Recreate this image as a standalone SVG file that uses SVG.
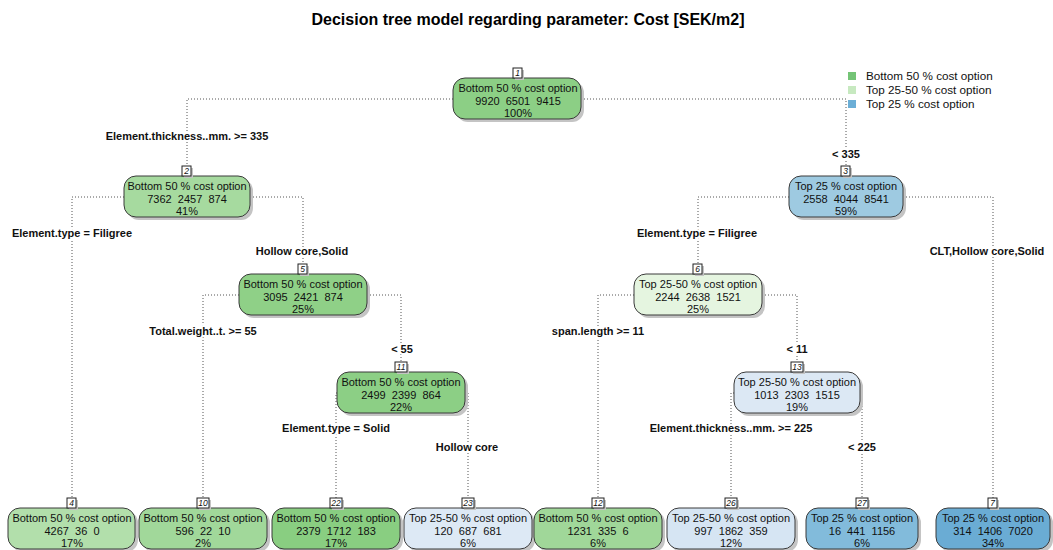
<svg xmlns="http://www.w3.org/2000/svg" width="1053" height="550" viewBox="0 0 1053 550">
  <style>
    text { white-space: pre; }
    .title { font: bold 16px "Liberation Sans", Arial, sans-serif; fill: #000; }
    .box { stroke: #3a3a3a; stroke-width: 1; }
    .shadow { fill: #c4c4c4; }
    .txt { font: 11px "Liberation Sans", Arial, sans-serif; fill: #111; text-anchor: middle; }
    .num { font: italic 8.5px "Liberation Sans", Arial, sans-serif; fill: #111; text-anchor: middle; }
    .numbox { fill: #fff; stroke: #222; stroke-width: 1; }
    .split { font: bold 11px "Liberation Sans", Arial, sans-serif; fill: #111; text-anchor: middle; paint-order: stroke; stroke: #fff; stroke-width: 4; stroke-linejoin: round; }
    .conn { fill: none; stroke: #555; stroke-width: 1; stroke-dasharray: 1 2; }
    .leg { font: 11.7px "Liberation Sans", Arial, sans-serif; fill: #111; }
  </style>

  <rect width="1053" height="550" fill="#fff"/>
  <text class="title" x="528" y="25" text-anchor="middle">Decision tree model regarding parameter: Cost [SEK/m2]</text>

  <!-- legend -->
  <g id="legend">
    <rect x="848" y="72" width="8" height="8" fill="#74c476"/>
    <rect x="848" y="86" width="8" height="8" fill="#c7e9c0"/>
    <rect x="848" y="100" width="8" height="8" fill="#6baed6"/>
    <text class="leg" x="866" y="80">Bottom 50 % cost option</text>
    <text class="leg" x="866" y="94">Top 25-50 % cost option</text>
    <text class="leg" x="866" y="108">Top 25 % cost option</text>
  </g>

  <!-- connectors: horizontal from box side, then down to child number tag -->
  <g id="connectors">
    <path class="conn" d="M453 99 H187 V166"/>
    <path class="conn" d="M581 99 H846 V166"/>
    <path class="conn" d="M124 197 H72 V498"/>
    <path class="conn" d="M250 197 H303 V264"/>
    <path class="conn" d="M789 197 H698 V264"/>
    <path class="conn" d="M903 197 H993 V498"/>
    <path class="conn" d="M239 295 H203 V498"/>
    <path class="conn" d="M367 295 H401 V362"/>
    <path class="conn" d="M634 295 H598 V498"/>
    <path class="conn" d="M762 295 H797 V362"/>
    <path class="conn" d="M337 393 H336 V498"/>
    <path class="conn" d="M465 393 H468 V498"/>
    <path class="conn" d="M734 393 H731 V498"/>
    <path class="conn" d="M860 393 H862 V498"/>
  </g>

  <!-- split labels -->
  <g id="split-labels">
    <text class="split" x="187" y="140">Element.thickness..mm. &gt;= 335</text>
    <text class="split" x="846" y="158">&lt; 335</text>
    <text class="split" x="72" y="237">Element.type = Filigree</text>
    <text class="split" x="302" y="255">Hollow core,Solid</text>
    <text class="split" x="697" y="237">Element.type = Filigree</text>
    <text class="split" x="987" y="255">CLT,Hollow core,Solid</text>
    <text class="split" x="203" y="335">Total.weight..t. &gt;= 55</text>
    <text class="split" x="402" y="353">&lt; 55</text>
    <text class="split" x="598" y="335">span.length &gt;= 11</text>
    <text class="split" x="797" y="353">&lt; 11</text>
    <text class="split" x="336" y="432">Element.type = Solid</text>
    <text class="split" x="467" y="451">Hollow core</text>
    <text class="split" x="731" y="432">Element.thickness..mm. &gt;= 225</text>
    <text class="split" x="862" y="451">&lt; 225</text>
  </g>

  <!-- node 1 -->
  <g id="node1">
    <rect class="shadow" x="456" y="81" width="128" height="41" rx="12"/>
    <rect class="box" x="453" y="78" width="128" height="41" rx="12" fill="#8ccf85"/>
    <rect class="shadow" x="515" y="70" width="9" height="10"/>
    <rect class="numbox" x="513" y="68" width="9" height="10"/>
    <text class="num" x="517.5" y="76">1</text>
    <text class="txt" x="518" y="92">Bottom 50 % cost option</text>
    <text class="txt" x="518" y="105">9920  6501  9415</text>
    <text class="txt" x="518" y="117">100%</text>
  </g>

  <!-- node 2 -->
  <g id="node2">
    <rect class="shadow" x="127" y="179" width="126" height="41" rx="12"/>
    <rect class="box" x="124" y="176" width="126" height="41" rx="12" fill="#a6da9f"/>
    <rect class="shadow" x="184" y="168" width="9" height="10"/>
    <rect class="numbox" x="182" y="166" width="9" height="10"/>
    <text class="num" x="186.5" y="174">2</text>
    <text class="txt" x="187" y="190">Bottom 50 % cost option</text>
    <text class="txt" x="187" y="202.5">7362  2457  874</text>
    <text class="txt" x="187" y="215">41%</text>
  </g>

  <!-- node 3 -->
  <g id="node3">
    <rect class="shadow" x="792" y="179" width="114" height="41" rx="12"/>
    <rect class="box" x="789" y="176" width="114" height="41" rx="12" fill="#9ecae1"/>
    <rect class="shadow" x="843" y="168" width="9" height="10"/>
    <rect class="numbox" x="841" y="166" width="9" height="10"/>
    <text class="num" x="845.5" y="174">3</text>
    <text class="txt" x="846" y="190">Top 25 % cost option</text>
    <text class="txt" x="846" y="202.5">2558  4044  8541</text>
    <text class="txt" x="846" y="215">59%</text>
  </g>

  <!-- node 5 -->
  <g id="node5">
    <rect class="shadow" x="242" y="277" width="128" height="41" rx="12"/>
    <rect class="box" x="239" y="274" width="128" height="41" rx="12" fill="#8fd087"/>
    <rect class="shadow" x="300" y="266" width="9" height="10"/>
    <rect class="numbox" x="298" y="264" width="9" height="10"/>
    <text class="num" x="302.5" y="272">5</text>
    <text class="txt" x="303" y="288">Bottom 50 % cost option</text>
    <text class="txt" x="303" y="300.5">3095  2421  874</text>
    <text class="txt" x="303" y="313">25%</text>
  </g>

  <!-- node 6 -->
  <g id="node6">
    <rect class="shadow" x="637" y="277" width="128" height="41" rx="12"/>
    <rect class="box" x="634" y="274" width="128" height="41" rx="12" fill="#e5f5e0"/>
    <rect class="shadow" x="695" y="266" width="9" height="10"/>
    <rect class="numbox" x="693" y="264" width="9" height="10"/>
    <text class="num" x="697.5" y="272">6</text>
    <text class="txt" x="698" y="288">Top 25-50 % cost option</text>
    <text class="txt" x="698" y="300.5">2244  2638  1521</text>
    <text class="txt" x="698" y="313">25%</text>
  </g>

  <!-- node 11 -->
  <g id="node11">
    <rect class="shadow" x="340" y="375" width="128" height="41" rx="12"/>
    <rect class="box" x="337" y="372" width="128" height="41" rx="12" fill="#8ccf85"/>
    <rect class="shadow" x="397" y="364" width="12" height="10"/>
    <rect class="numbox" x="395" y="362" width="12" height="10"/>
    <text class="num" x="401" y="370">11</text>
    <text class="txt" x="401" y="386">Bottom 50 % cost option</text>
    <text class="txt" x="401" y="398.5">2499  2399  864</text>
    <text class="txt" x="401" y="411">22%</text>
  </g>

  <!-- node 13 -->
  <g id="node13">
    <rect class="shadow" x="737" y="375" width="126" height="41" rx="12"/>
    <rect class="box" x="734" y="372" width="126" height="41" rx="12" fill="#dce8f4"/>
    <rect class="shadow" x="793" y="364" width="12" height="10"/>
    <rect class="numbox" x="791" y="362" width="12" height="10"/>
    <text class="num" x="797" y="370">13</text>
    <text class="txt" x="797" y="386">Top 25-50 % cost option</text>
    <text class="txt" x="797" y="398.5">1013  2303  1515</text>
    <text class="txt" x="797" y="411">19%</text>
  </g>

  <!-- leaf 4 -->
  <g id="node4">
    <rect class="shadow" x="11" y="511" width="127" height="41" rx="12"/>
    <rect class="box" x="8" y="508" width="127" height="41" rx="12" fill="#b2dfab"/>
    <rect class="shadow" x="69" y="500" width="9" height="10"/>
    <rect class="numbox" x="67" y="498" width="9" height="10"/>
    <text class="num" x="71.5" y="506">4</text>
    <text class="txt" x="72" y="522">Bottom 50 % cost option</text>
    <text class="txt" x="72" y="534.5">4267  36  0</text>
    <text class="txt" x="72" y="547">17%</text>
  </g>

  <!-- leaf 10 -->
  <g id="node10">
    <rect class="shadow" x="142" y="511" width="128" height="41" rx="12"/>
    <rect class="box" x="139" y="508" width="128" height="41" rx="12" fill="#a1d89a"/>
    <rect class="shadow" x="199" y="500" width="12" height="10"/>
    <rect class="numbox" x="197" y="498" width="12" height="10"/>
    <text class="num" x="203" y="506">10</text>
    <text class="txt" x="203" y="522">Bottom 50 % cost option</text>
    <text class="txt" x="203" y="534.5">596  22  10</text>
    <text class="txt" x="203" y="547">2%</text>
  </g>

  <!-- leaf 22 -->
  <g id="node22">
    <rect class="shadow" x="275" y="511" width="128" height="41" rx="12"/>
    <rect class="box" x="272" y="508" width="128" height="41" rx="12" fill="#89ce81"/>
    <rect class="shadow" x="332" y="500" width="12" height="10"/>
    <rect class="numbox" x="330" y="498" width="12" height="10"/>
    <text class="num" x="336" y="506">22</text>
    <text class="txt" x="336" y="522">Bottom 50 % cost option</text>
    <text class="txt" x="336" y="534.5">2379  1712  183</text>
    <text class="txt" x="336" y="547">17%</text>
  </g>

  <!-- leaf 23 -->
  <g id="node23">
    <rect class="shadow" x="407" y="511" width="128" height="41" rx="12"/>
    <rect class="box" x="404" y="508" width="128" height="41" rx="12" fill="#dde9f5"/>
    <rect class="shadow" x="464" y="500" width="12" height="10"/>
    <rect class="numbox" x="462" y="498" width="12" height="10"/>
    <text class="num" x="468" y="506">23</text>
    <text class="txt" x="468" y="522">Top 25-50 % cost option</text>
    <text class="txt" x="468" y="534.5">120  687  681</text>
    <text class="txt" x="468" y="547">6%</text>
  </g>

  <!-- leaf 12 -->
  <g id="node12">
    <rect class="shadow" x="537" y="511" width="128" height="41" rx="12"/>
    <rect class="box" x="534" y="508" width="128" height="41" rx="12" fill="#a0d799"/>
    <rect class="shadow" x="594" y="500" width="12" height="10"/>
    <rect class="numbox" x="592" y="498" width="12" height="10"/>
    <text class="num" x="598" y="506">12</text>
    <text class="txt" x="598" y="522">Bottom 50 % cost option</text>
    <text class="txt" x="598" y="534.5">1231  335  6</text>
    <text class="txt" x="598" y="547">6%</text>
  </g>

  <!-- leaf 26 -->
  <g id="node26">
    <rect class="shadow" x="670" y="511" width="128" height="41" rx="12"/>
    <rect class="box" x="667" y="508" width="128" height="41" rx="12" fill="#d6e5f3"/>
    <rect class="shadow" x="727" y="500" width="12" height="10"/>
    <rect class="numbox" x="725" y="498" width="12" height="10"/>
    <text class="num" x="731" y="506">26</text>
    <text class="txt" x="731" y="522">Top 25-50 % cost option</text>
    <text class="txt" x="731" y="534.5">997  1862  359</text>
    <text class="txt" x="731" y="547">12%</text>
  </g>

  <!-- leaf 27 -->
  <g id="node27">
    <rect class="shadow" x="809" y="511" width="112" height="41" rx="12"/>
    <rect class="box" x="806" y="508" width="112" height="41" rx="12" fill="#82bbdb"/>
    <rect class="shadow" x="858" y="500" width="12" height="10"/>
    <rect class="numbox" x="856" y="498" width="12" height="10"/>
    <text class="num" x="862" y="506">27</text>
    <text class="txt" x="862" y="522">Top 25 % cost option</text>
    <text class="txt" x="862" y="534.5">16  441  1156</text>
    <text class="txt" x="862" y="547">6%</text>
  </g>

  <!-- leaf 7 -->
  <g id="node7">
    <rect class="shadow" x="939" y="511" width="114" height="41" rx="12"/>
    <rect class="box" x="936" y="508" width="114" height="41" rx="12" fill="#6aacd4"/>
    <rect class="shadow" x="990" y="500" width="9" height="10"/>
    <rect class="numbox" x="988" y="498" width="9" height="10"/>
    <text class="num" x="992.5" y="506">7</text>
    <text class="txt" x="993" y="522">Top 25 % cost option</text>
    <text class="txt" x="993" y="534.5">314  1406  7020</text>
    <text class="txt" x="993" y="547">34%</text>
  </g>
</svg>
